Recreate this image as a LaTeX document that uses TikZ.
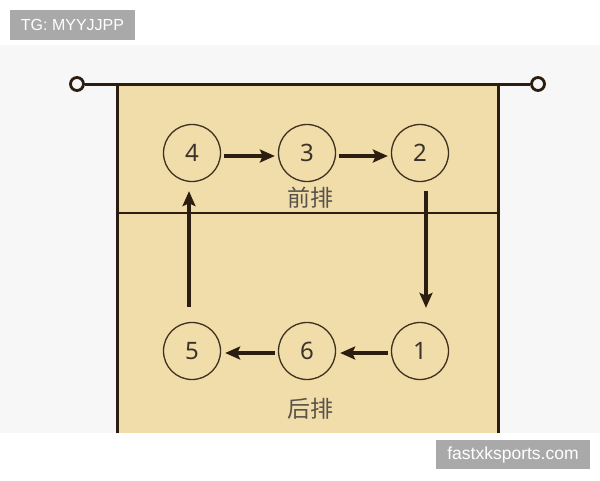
\documentclass[tikz,border=0pt]{standalone}
\usepackage{fontspec}
\setmainfont{Noto Sans}
\newfontfamily\cjk{Noto Sans CJK SC}
\newfontfamily\lab{Liberation Sans}
\usetikzlibrary{arrows.meta,calc}
\definecolor{bgc}{HTML}{F7F7F7}
\definecolor{court}{HTML}{F0DDA9}
\definecolor{lin}{HTML}{2B1D10}
\definecolor{circ}{HTML}{3E3020}
\definecolor{txt}{HTML}{3B332B}
\definecolor{tag}{HTML}{A9A9A9}
\begin{document}
\begin{tikzpicture}[x=1pt,y=-1pt,
  posnode/.style={circle,draw=circ,line width=1.3pt,minimum size=57pt,inner sep=0pt,font=\fontsize{24}{24}\selectfont,text=txt},
  rowlabel/.style={font=\cjk\fontsize{23}{23}\selectfont,text=txt!85},
  arr/.style={-{Stealth[length=15pt,width=13pt,inset=3pt]},draw=lin,line width=3.8pt},
  varr/.style={-{Stealth[length=15pt,width=13pt,inset=3pt]},draw=lin,line width=3.2pt},
  tagbox/.style={fill=tag,text=white,inner sep=0pt,font=\lab\fontsize{16}{16}\selectfont},
  postnode/.style={circle,draw=lin,fill=bgc,line width=2.8pt,minimum size=13pt,inner sep=0pt}]
\useasboundingbox (0,0) rectangle (600,480);
\fill[white] (0,0) rectangle (600,480);
\fill[bgc] (0,45) rectangle (600,433);
% court
\fill[court] (117,84) rectangle (498,433);
\draw[lin,line width=3pt] (117,433) -- (117,84) -- (498,84) -- (498,433);
\draw[lin,line width=2.8pt] (117,213) -- (498,213);
% net posts
\node[postnode] (pl) at (77,84) {};
\node[postnode] (pr) at (538,84) {};
\draw[lin,line width=3pt] (pl) -- (117,84);
\draw[lin,line width=3pt] (498,84) -- (pr);
% positions
\node[posnode] (c4) at (192,153) {4};
\node[posnode] (c3) at (307,153) {3};
\node[posnode] (c2) at (420,153) {2};
\node[posnode] (c5) at (192,351) {5};
\node[posnode] (c6) at (307,351) {6};
\node[posnode] (c1) at (420,351) {1};
\node[rowlabel] (front) at (310,198) {前排};
\node[rowlabel] (back) at (310,409) {后排};
% arrows
\draw[arr,shorten <=3pt,shorten >=3pt] ([yshift=-3pt]c4.east) -- ([yshift=-3pt]c3.west);
\draw[arr,shorten <=3pt,shorten >=3pt] ([yshift=-3pt]c3.east) -- ([yshift=-3pt]c2.west);
\draw[varr] ($(c2.south)+(6,9)$) -- ($(c1.north)+(6,-14)$);
\draw[arr,shorten <=3pt,shorten >=4pt] ([yshift=-2pt]c1.west) -- ([yshift=-2pt]c6.east);
\draw[arr,shorten <=3pt,shorten >=4pt] ([yshift=-2pt]c6.west) -- ([yshift=-2pt]c5.east);
\draw[varr] ($(c5.north)+(-3,-15)$) -- ($(c4.south)+(-3,9)$);
% tags
\node[tagbox,minimum width=125pt,minimum height=30pt] (tg) at (72.5,25) {TG: MYYJJPP};
\node[tagbox,minimum width=154pt,minimum height=29pt,font=\lab\fontsize{17.5}{17.5}\selectfont] (site) at (513,454.5) {fastxksports.com};
\end{tikzpicture}
\end{document}
